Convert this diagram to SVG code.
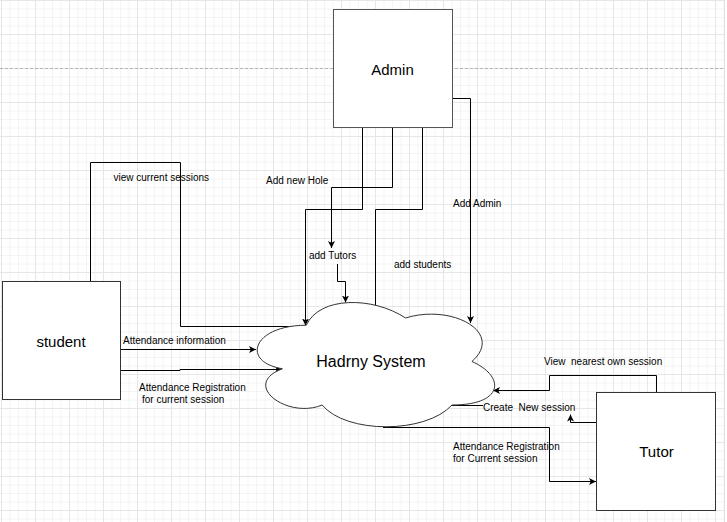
<svg xmlns="http://www.w3.org/2000/svg" xmlns:xlink="http://www.w3.org/1999/xlink" width="727" height="522" viewBox="0 0 727 522">
<style>
.node{fill:#fff;stroke:#333;stroke-width:1}
.edge{fill:none;stroke:#000;stroke-width:1}
.lbl{font-family:"Liberation Sans",Arial,sans-serif;font-size:10px;fill:#000}
.big{font-family:"Liberation Sans",Arial,sans-serif;font-size:15px;fill:#000;text-anchor:middle}
</style>
<defs>
<pattern id="grid" patternUnits="userSpaceOnUse" x="1" y="0" width="34" height="34">
<path d="M9,0V34M17.5,0V34M26,0V34M0,9H34M0,17.5H34M0,26H34" stroke="#f4f4f4" stroke-width="1" fill="none"/>
<path d="M0.5,0V34M0,0.5H34" stroke="#e6e6e6" stroke-width="1" fill="none"/>
</pattern>
<marker id="arr" viewBox="0 0 7 7" refX="7" refY="3.5" markerWidth="7" markerHeight="7" markerUnits="userSpaceOnUse" orient="auto">
<path d="M0,0 L7,3.5 L0,7 L1.75,3.5 Z" fill="#000"/>
</marker>
<path id="ah" d="M0,0 L-7,-3.5 L-5.25,0 L-7,3.5 Z" fill="#000"/>
</defs>
<rect x="0" y="0" width="727" height="522" fill="#fff"/>
<rect x="0" y="0" width="725" height="522" fill="url(#grid)"/>
<line x1="724.5" y1="0" x2="724.5" y2="522" stroke="#e0e0e0"/>
<line x1="0" y1="68.5" x2="725" y2="68.5" stroke="#b4b4b4" stroke-dasharray="3 2"/>

<g id="connectors">
<path class="edge" d="M90.5,281 V162.5 H180.5 V326.5 H305"/>
<use xlink:href="#ah" transform="translate(305.5,326) rotate(-90)"/>
<path class="edge" d="M362.5,128 V209.5 H305.5 V325.5" marker-end="url(#arr)"/>
<path class="edge" d="M392.5,128 V187.5 H331.5 V248" marker-end="url(#arr)"/>
<path class="edge" d="M337.5,264 V281.5 H345.5 V302.5" marker-end="url(#arr)"/>
<path class="edge" d="M422.5,128 V209.5 H375.5 V305"/>
<path class="edge" d="M452,98.5 H470.5 V323" marker-end="url(#arr)"/>
<path class="edge" d="M121,349.5 H256" marker-end="url(#arr)"/>
<path class="edge" d="M121,370.5 H180 V369.5 H282" marker-end="url(#arr)"/>
<path class="edge" d="M656.5,392 V375.5 H549.5 V390.5 H493" marker-end="url(#arr)"/>
<path class="edge" d="M596,422.5 H570.5 V414.5" marker-end="url(#arr)"/>
<path class="edge" d="M483,405.5 H450.5"/>
<use xlink:href="#ah" transform="translate(450.5,403.5) rotate(90)"/>
<path class="edge" d="M383,427.5 H549.5 V481.5 H596" marker-end="url(#arr)"/>
<text class="lbl" x="113.5" y="181">view current sessions</text>
<text class="lbl" x="266" y="183.5">Add new Hole</text>
<text class="lbl" x="309" y="258.5">add Tutors</text>
<text class="lbl" x="394" y="267.5">add students</text>
<text class="lbl" x="453" y="207">Add Admin</text>
<text class="lbl" x="123" y="343.5">Attendance information</text>
<text class="lbl" x="139" y="391">Attendance Registration</text>
<text class="lbl" x="142" y="403">for current session</text>
<text class="lbl" x="544" y="365" xml:space="preserve">View  nearest own session</text>
<text class="lbl" x="483" y="411" xml:space="preserve">Create  New session</text>
<text class="lbl" x="453" y="450">Attendance Registration</text>
<text class="lbl" x="453" y="462">for Current session</text>
</g>

<g id="admin">
<rect class="node" x="333.5" y="9.5" width="119" height="118" style="stroke:#555"/>
<text class="big" x="392.5" y="74.5">Admin</text>
</g>
<g id="student">
<rect class="node" x="2.5" y="281.5" width="118" height="118"/>
<text class="big" x="61" y="346.5">student</text>
</g>
<g id="tutor">
<rect class="node" x="596.5" y="392.5" width="119" height="118"/>
<text class="big" x="656.5" y="457">Tutor</text>
</g>
<g id="system">
<path class="node" d="M306.25,325.25 C253.25,325.25 240,361.5 282.4,368.75 C240,384.7 287.7,419.5 322.15,405 C346,434 425.5,434 452,405 C505,405 505,376 471.9,361.5 C505,332.5 452,303.5 405.6,318 C372.5,296.25 319.5,296.25 306.25,325.25 Z"/>
<text style="font-family:'Liberation Sans',Arial,sans-serif;font-size:16px;text-anchor:middle;fill:#000" x="371" y="367">Hadrny System</text>
</g>
</svg>
